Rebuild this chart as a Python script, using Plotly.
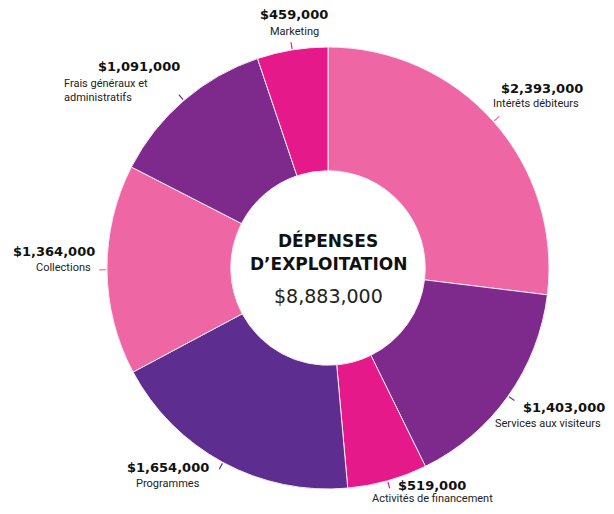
import math
import plotly.graph_objects as go

# data
categories = ['Intérêts débiteurs', 'Services aux visiteurs', 'Activités de financement',
              'Programmes', 'Collections', 'Frais généraux et<br>administratifs', 'Marketing']
values = [2393000, 1403000, 519000, 1654000, 1364000, 1091000, 459000]
colors = ['#EE67A4', '#7E2A8D', '#E6198A', '#5D2E8F', '#EE67A4', '#7E2A8D', '#E6198A']

# page body has an 8px margin, so the figure is drawn a little smaller and offset
OFF = 8
W, H = 614 - 2 * OFF, 514 - 2 * OFF
cx, cy, R = 328, 268, 221  # pie centre / radius in window pixels

# where each label block sits (window pixels, anchor)
label_pos = [
    (585, 88, 'right'),
    (607, 407, 'right'),
    (432, 485, 'center'),
    (168, 467, 'center'),
    (97, 251, 'right'),
    (62, 66, 'left'),
    (294, 15, 'center'),
]

VAL_FONT = dict(family='DejaVu Sans', size=13, color='#111')
LBL_FONT = dict(family='Roboto', size=11, color='#222')


def px(x):
    return (x - OFF) / W


def py(y):
    return 1 - (y - OFF) / H


fig = go.Figure(go.Pie(
    labels=categories,
    values=values,
    hole=0.44,
    sort=False,
    direction='clockwise',
    rotation=0,
    marker=dict(colors=colors, line=dict(color='#f4e9f2', width=1)),
    textinfo='none',
    hoverinfo='label+value',
    domain=dict(x=[px(cx - R), px(cx + R)], y=[py(cy + R), py(cy - R)]),
    showlegend=False,
))

total = sum(values)
annotations = []
shapes = []
acc = 0
for cat, val, col, (lx, ly, anchor) in zip(categories, values, colors, label_pos):
    mid = (acc + val / 2) / total * 2 * math.pi
    acc += val
    # small leader tick just outside the ring
    x0, y0 = cx + R * 1.005 * math.sin(mid), cy - R * 1.005 * math.cos(mid)
    x1, y1 = cx + R * 1.035 * math.sin(mid), cy - R * 1.035 * math.cos(mid)
    shapes.append(dict(type='line', xref='paper', yref='paper',
                       x0=px(x0), y0=py(y0), x1=px(x1), y1=py(y1),
                       line=dict(color=col, width=1.2)))
    if cat.startswith('Frais'):
        annotations.append(dict(x=px(182), y=py(ly), xanchor='right', yanchor='middle',
                                text=f'<b>${val:,.0f}</b>', showarrow=False, font=VAL_FONT))
        annotations.append(dict(x=px(lx), y=py(ly + 25), xanchor='left', yanchor='middle',
                                text=cat, showarrow=False, align='left', font=LBL_FONT))
        continue
    gap = 13 if cat.startswith('Activit') else 16
    annotations.append(dict(x=px(lx), y=py(ly), xanchor=anchor, yanchor='middle',
                            text=f'<b>${val:,.0f}</b>', showarrow=False, font=VAL_FONT))
    annotations.append(dict(x=px(lx - 4 if anchor == 'right' else lx), y=py(ly + gap),
                            xanchor=anchor, yanchor='middle',
                            text=cat, showarrow=False, font=LBL_FONT))

# centre text
annotations.append(dict(x=px(cx), y=py(240), text='<b>DÉPENSES</b>', showarrow=False,
                        font=dict(family='DejaVu Sans', size=17, color='#111')))
annotations.append(dict(x=px(cx), y=py(264), text='<b>D\u2019EXPLOITATION</b>', showarrow=False,
                        font=dict(family='DejaVu Sans', size=17, color='#111')))
annotations.append(dict(x=px(cx), y=py(296), text=f'${total:,.0f}', showarrow=False,
                        font=dict(family='DejaVu Sans', size=19, color='#222')))

fig.update_layout(
    width=W, height=H,
    margin=dict(l=0, r=0, t=0, b=0),
    paper_bgcolor='white',
    plot_bgcolor='white',
    annotations=annotations,
    shapes=shapes,
)

fig.write_html('out.html')
